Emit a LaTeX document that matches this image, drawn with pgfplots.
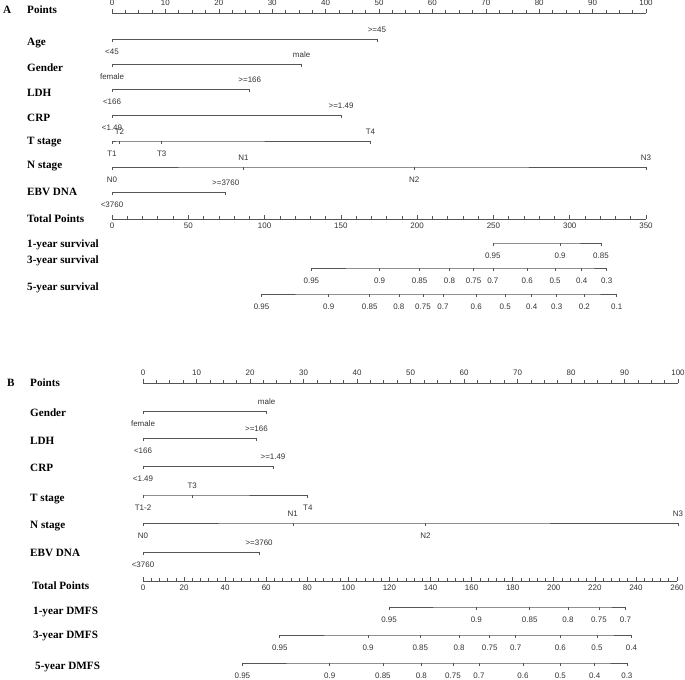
\documentclass[border=0pt]{standalone}
\usepackage{pgfplots}
\pgfplotsset{compat=1.18}
\usepackage{fontspec}
\setmainfont{Liberation Serif}
\newfontfamily\tickfont{Liberation Sans}
\definecolor{ln}{HTML}{555555}
\definecolor{tx}{HTML}{333333}
\pgfdeclareplotmark{tickdown}{\pgfpathmoveto{\pgfqpoint{0pt}{0pt}}\pgfpathlineto{\pgfqpoint{0pt}{-\pgfplotmarksize}}\pgfusepathqstroke}
\pgfplotsset{
  nomo/.style={scale only axis, y=1bp, clip=false, axis y line=none, ytick=\empty,
    axis line style={ln, line width=0.7bp}, tick style={ln, line width=0.6bp},
    major tick length=3.5bp, minor tick length=2.5bp,
    tick label style={font=\tickfont\fontsize{8}{9}\selectfont, text=tx},
    /pgf/number format/assume math mode=true,
    anchor=south west},
  row/.style={ln, line width=0.7bp, mark=tickdown, mark size=3bp,
    mark options={solid, ln, line width=0.6bp},
    point meta=explicit symbolic, nodes near coords,
    visualization depends on={value \thisrow{dy} \as \dy},
    every node near coord/.append style={anchor=center, yshift=\dy bp,
      font=\tickfont\fontsize{8}{9}\selectfont, text=tx, inner sep=0pt}},
}
\begin{document}
\begin{tikzpicture}
\useasboundingbox (0,0) rectangle (685bp,680bp);
% ---------------- Panel A: points ----------------
\begin{axis}[nomo, at={(112bp,480bp)}, width=534bp, xmin=0, xmax=100, ymin=480, ymax=667,
  axis x line*=top, xtick distance=10, minor x tick num=3, xtick align=outside]
\addplot[row] table[x=x,y=y,meta=lab,row sep=\\]{x y lab dy\\ 0 641 <45 -13\\ 49.6 641 >=45 9\\};
\addplot[row] table[x=x,y=y,meta=lab,row sep=\\]{x y lab dy\\ 0 616 female -13\\ 35.5 616 male 9\\};
\addplot[row] table[x=x,y=y,meta=lab,row sep=\\]{x y lab dy\\ 0 591 <166 -13\\ 25.8 591 >=166 9\\};
\addplot[row] table[x=x,y=y,meta=lab,row sep=\\]{x y lab dy\\ 0 565 <1.49 -13\\ 42.9 565 >=1.49 9\\};
\addplot[row] table[x=x,y=y,meta=lab,row sep=\\]{x y lab dy\\ 0 539 T1 -13\\ 1.4 539 T2 9\\ 9.3 539 T3 -13\\ 48.4 539 T4 9\\};
\addplot[row] table[x=x,y=y,meta=lab,row sep=\\]{x y lab dy\\ 0 513 N0 -13\\ 24.6 513 N1 9\\ 56.6 513 N2 -13\\ 100 513 N3 9\\};
\addplot[row] table[x=x,y=y,meta=lab,row sep=\\]{x y lab dy\\ 0 488 <3760 -13\\ 21.3 488 >=3760 9\\};
\end{axis}
% ---------------- Panel A: total points ----------------
\begin{axis}[nomo, at={(112bp,461bp)}, width=534bp, xmin=0, xmax=350, ymin=461, ymax=470,
  axis x line*=bottom, xtick distance=50, minor x tick num=4, xtick align=inside]
\addplot[row] table[x=x,y=y,meta=lab,row sep=\\]{x y lab dy\\ 249.6 437 0.95 -13\\ 293.7 437 0.9 -13\\ 320.5 437 0.85 -13\\};
\addplot[row] table[x=x,y=y,meta=lab,row sep=\\]{x y lab dy\\ 130.7 412 0.95 -13\\ 175.4 412 0.9 -13\\ 201.6 412 0.85 -13\\ 221.2 412 0.8 -13\\ 237 412 0.75 -13\\ 249.6 412 0.7 -13\\ 272.1 412 0.6 -13\\ 290.4 412 0.5 -13\\ 307.9 412 0.4 -13\\ 324.2 412 0.3 -13\\};
\addplot[row] table[x=x,y=y,meta=lab,row sep=\\]{x y lab dy\\ 98 386 0.95 -13\\ 142 386 0.9 -13\\ 168.9 386 0.85 -13\\ 188 386 0.8 -13\\ 203.8 386 0.75 -13\\ 216.9 386 0.7 -13\\ 238.7 386 0.6 -13\\ 257.7 386 0.5 -13\\ 275.1 386 0.4 -13\\ 291.5 386 0.3 -13\\ 309.6 386 0.2 -13\\ 330.8 386 0.1 -13\\};
\end{axis}
% ---------------- Panel B: points ----------------
\begin{axis}[nomo, at={(143bp,110bp)}, width=535bp, xmin=0, xmax=100, ymin=110, ymax=297,
  axis x line*=top, xtick distance=10, minor x tick num=3, xtick align=outside]
\addplot[row] table[x=x,y=y,meta=lab,row sep=\\]{x y lab dy\\ 0 269 female -13\\ 23.1 269 male 9\\};
\addplot[row] table[x=x,y=y,meta=lab,row sep=\\]{x y lab dy\\ 0 242 <166 -13\\ 21.2 242 >=166 9\\};
\addplot[row] table[x=x,y=y,meta=lab,row sep=\\]{x y lab dy\\ 0 214 <1.49 -13\\ 24.3 214 >=1.49 9\\};
\addplot[row] table[x=x,y=y,meta=lab,row sep=\\]{x y lab dy\\ 0 185 T1-2 -13\\ 9.2 185 T3 9\\ 30.8 185 T4 -13\\};
\addplot[row] table[x=x,y=y,meta=lab,row sep=\\]{x y lab dy\\ 0 157 N0 -13\\ 28.0 157 N1 9\\ 52.8 157 N2 -13\\ 100 157 N3 9\\};
\addplot[row] table[x=x,y=y,meta=lab,row sep=\\]{x y lab dy\\ 0 128 <3760 -13\\ 21.7 128 >=3760 9\\};
\end{axis}
% ---------------- Panel B: total points ----------------
\begin{axis}[nomo, at={(143bp,99bp)}, width=534bp, xmin=0, xmax=260, ymin=99, ymax=105,
  axis x line*=bottom, xtick distance=20, minor x tick num=4, xtick align=inside]
\addplot[row] table[x=x,y=y,meta=lab,row sep=\\]{x y lab dy\\ 119.8 73 0.95 -13\\ 162.3 73 0.9 -13\\ 188.3 73 0.85 -13\\ 206.9 73 0.8 -13\\ 222 73 0.75 -13\\ 234.9 73 0.7 -13\\};
\addplot[row] table[x=x,y=y,meta=lab,row sep=\\]{x y lab dy\\ 66.6 45 0.95 -13\\ 109.6 45 0.9 -13\\ 135 45 0.85 -13\\ 153.9 45 0.8 -13\\ 168.8 45 0.75 -13\\ 181.5 45 0.7 -13\\ 203.2 45 0.6 -13\\ 221 45 0.5 -13\\ 237.8 45 0.4 -13\\};
\addplot[row] table[x=x,y=y,meta=lab,row sep=\\]{x y lab dy\\ 48.4 17 0.95 -13\\ 90.9 17 0.9 -13\\ 116.8 17 0.85 -13\\ 135.5 17 0.8 -13\\ 150.9 17 0.75 -13\\ 163.6 17 0.7 -13\\ 185 17 0.6 -13\\ 203.2 17 0.5 -13\\ 219.9 17 0.4 -13\\ 235.6 17 0.3 -13\\};
\end{axis}
% ---------------- Row names ----------------
\begin{scope}[every node/.style={anchor=base west, inner sep=0pt, font=\bfseries\fontsize{11.2}{13}\selectfont}]
\node at (3bp,666bp) {A};
\node at (27bp,666bp) {Points};
\node at (27bp,634bp) {Age};
\node at (27bp,608bp) {Gender};
\node at (27bp,583bp) {LDH};
\node at (27bp,558bp) {CRP};
\node at (27bp,535bp) {T stage};
\node at (27bp,511bp) {N stage};
\node at (27bp,484bp) {EBV DNA};
\node at (27bp,457bp) {Total Points};
\node at (27bp,432bp) {1-year survival};
\node at (27bp,416bp) {3-year survival};
\node at (27bp,389bp) {5-year survival};
\node at (7bp,293bp) {B};
\node at (30bp,293bp) {Points};
\node at (30bp,263bp) {Gender};
\node at (30bp,235bp) {LDH};
\node at (30bp,208bp) {CRP};
\node at (30bp,178bp) {T stage};
\node at (30bp,151bp) {N stage};
\node at (30bp,123bp) {EBV DNA};
\node at (32bp,90bp) {Total Points};
\node at (33bp,65bp) {1-year DMFS};
\node at (33bp,41bp) {3-year DMFS};
\node at (35bp,11bp) {5-year DMFS};
\end{scope}
\end{tikzpicture}
\end{document}
